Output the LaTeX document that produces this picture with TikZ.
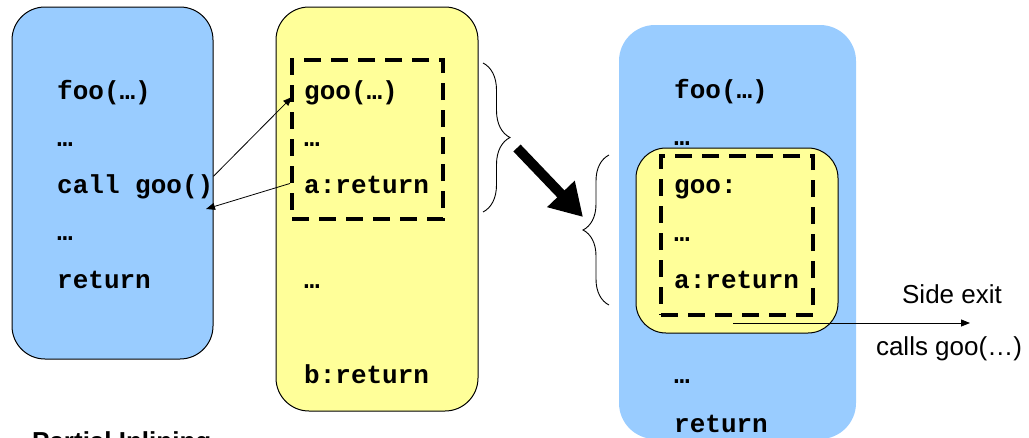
\documentclass[tikz,border=0pt]{standalone}
\usepackage{fontspec}
\setmainfont{Liberation Sans}
\newfontfamily\codefont{Liberation Mono}
\usetikzlibrary{arrows.meta,decorations.pathreplacing}
\definecolor{fnblue}{HTML}{99CCFF}
\definecolor{fnyellow}{HTML}{FFFF99}

\begin{document}
\begin{tikzpicture}[x=1pt,y=-1pt,
  code/.style={anchor=base west, inner sep=0pt, font=\codefont\bfseries\fontsize{26}{30}\selectfont},
  note/.style={anchor=base, inner sep=0pt, font=\fontsize{26}{30}\selectfont},
  fnbox/.style={draw=black, line width=1pt, rounded corners=33pt, inner sep=0pt},
  region/.style={draw=black, line width=4pt, dash pattern=on 17pt off 10pt, inner sep=0pt},
  callarrow/.style={-{Triangle[length=9pt,width=7pt]}, line width=0.8pt},
  bracket/.style={decorate, decoration={brace, amplitude=27pt}, line width=0.9pt},
  bigarrow/.style={line width=10pt, -{Triangle[length=32pt,width=36pt]}}
]
\useasboundingbox (0,0) rectangle (1029,437);
\clip (0,0) rectangle (1029,437);

% ---- caller foo ----
\node[fnbox, fill=fnblue, minimum width=201pt, minimum height=352pt] (foo) at (112.5,183) {};
\node[code] (fooA) at (57,99) {foo(…)};
\node[code] (fooB) at (57,146) {…};
\node[code] (fooCall) at (57,193) {call goo()};
\node[code] (fooD) at (57,240) {…};
\node[code] (fooRet) at (57,288) {return};

% ---- callee goo ----
\node[fnbox, fill=fnyellow, minimum width=202pt, minimum height=404pt] (goo) at (377,209) {};
\node[region, minimum width=151pt, minimum height=159pt] (hot) at (367.5,139.5) {};
\node[code] (gooA) at (304,99) {goo(…)};
\node[code] (gooB) at (304,146) {…};
\node[code] (gooRet) at (304,193) {a:return};
\node[code] (gooC) at (304,288) {…};
\node[code] (gooRetB) at (304,383) {b:return};

% call and return edges
\coordinate (callEnd) at (292,97);
\coordinate (retEnd) at (206,209);
\draw[callarrow] (fooCall.east) ++(0,-10) coordinate (callStart) -- (callEnd);
\draw[callarrow] (hot.west |- gooRet.west) ++(0,-1) -- (retEnd);

% ---- braces and transformation arrow ----
\coordinate (b1top) at (483,63);
\coordinate (b1bot) at (483,212);
\draw[bracket] (b1top) -- (b1bot);
\coordinate (b2top) at (609,155);
\coordinate (b2bot) at (609,305);
\draw[bracket, decoration={amplitude=26pt}] (b2bot) -- (b2top);
\coordinate (bigTail) at (517,148);
\coordinate (bigTip) at (583,217);
\draw[bigarrow] (bigTail) -- (bigTip);

% ---- foo with goo inlined ----
\node[fill=fnblue, rounded corners=36pt, inner sep=0pt, minimum width=237pt, minimum height=414pt] (fooNew) at (737.5,232) {};
\node[fnbox, fill=fnyellow, rounded corners=30pt, minimum width=202pt, minimum height=185pt] (inl) at (737,240.5) {};
\node[region, minimum width=152pt, minimum height=159pt] (inlHot) at (737,235.5) {};
\node[code] (nA) at (674,98) {foo(…)};
\node[code] (nB) at (674,145) {…};
\node[code] (nGoo) at (674,193) {goo:};
\node[code] (nC) at (674,241) {…};
\node[code] (nRet) at (674,288) {a:return};
\node[code] (nD) at (674,383) {…};
\node[code] (nRetB) at (674,432) {return};

% side exit
\coordinate (exitStart) at (733,323);
\coordinate (exitEnd) at (970,323);
\draw[callarrow] (exitStart) -- (exitEnd);
\node[note] (sideExit) at (952,303) {Side exit};
\node[note] (callsGoo) at (949,355) {calls goo(…)};

% caption
\node[anchor=base west, inner sep=0pt, font=\bfseries\fontsize{26}{30}\selectfont] (caption) at (32,450) {Partial Inlining};
\end{tikzpicture}
\end{document}
